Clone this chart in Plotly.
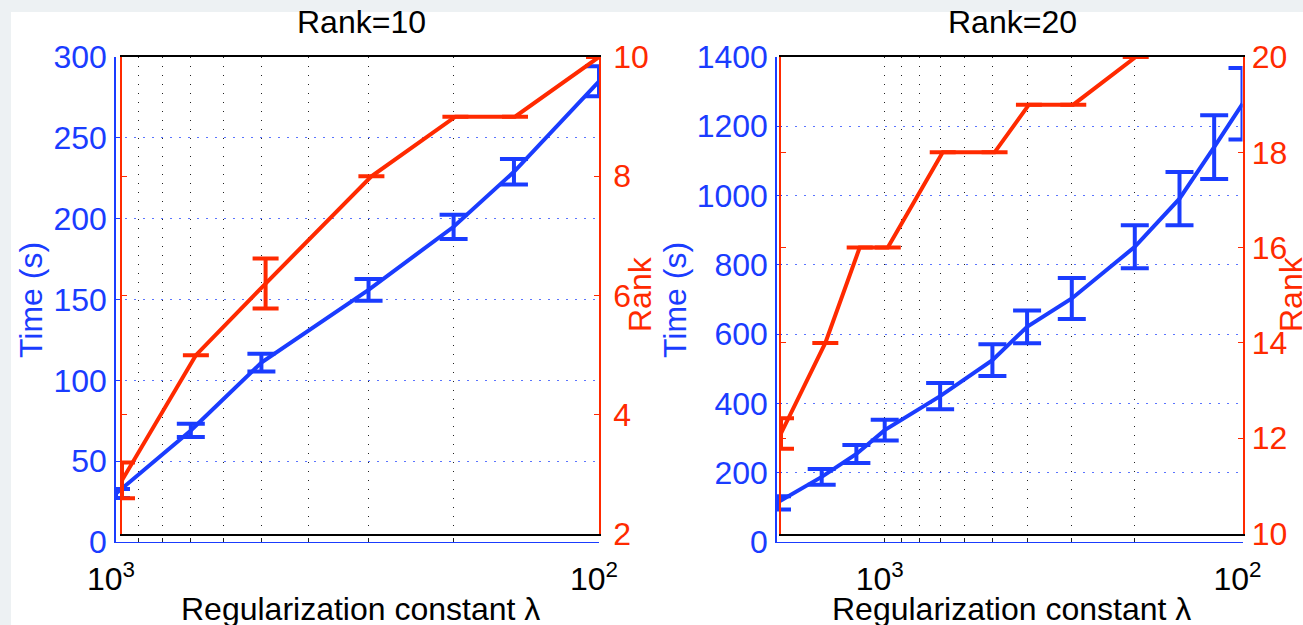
import plotly.graph_objects as go

# ---------------- data ----------------
lam_r10 = [1000, 700, 500, 300, 200, 150, 100]
time_r10 = [30, 69, 111, 156, 195, 229, 285]
time_err_r10 = [2.8, 4.1, 5.5, 6.7, 7.5, 7.9, 9.3]
rank_r10 = [2.9, 5, 6.2, 8, 9, 9, 10]
rank_err_r10 = [0.3, 0, 0.42, 0, 0, 0, 0]

lam_r20 = [2000, 1500, 1200, 1000, 700, 500, 400, 300, 200, 150, 120, 100]
time_r20 = [113, 188, 254, 323, 421, 525, 621, 703, 852, 991, 1140, 1265]
time_err_r20 = [19, 23, 26, 30, 38, 46, 47, 59, 62, 77, 92, 103]
rank_r20 = [12.1, 14, 16, 16, 18, 18, 19, 19, 20, None, None, None]
rank_err_r20 = [0.32, 0, 0, 0, 0, 0, 0, 0, 0, None, None, None]

grid_vals = [100, 200, 300, 400, 500, 600, 700, 800, 900, 1000]
grid_text = ["10<sup>2</sup>", "", "", "", "", "", "", "", "", "10<sup>3</sup>"]

titles = ["Rank=10", "Rank=20"]
xlabel = "Regularization constant λ"
ylabel_left = "Time (s)"
ylabel_right = "Rank"

# ---------------- style ----------------
W, H = 1303, 625
BLUE = "#1a3cff"
RED = "#ff2a00"
FONT = "Liberation Sans, Arial, Helvetica, sans-serif"
FS = 32


def fx(p):
    return p / W


def fy(p):
    return 1 - p / H


fig = go.Figure()

panels = [
    dict(lam=lam_r10, t=time_r10, te=time_err_r10, r=rank_r10, re=rank_err_r10,
         bx=(116, 599), rx=(122, 599), ybot_b=542, ybot_r=534, xr=[3, 2],
         yr_b=[0, 300], dt_b=50, yr_r=[2, 10], ids=("", "2"), rstand=6,
         title_x=361, xlabel_x=360, tl_x=31, rl_x=640),
    dict(lam=lam_r20, t=time_r20, te=time_err_r20, r=rank_r20, re=rank_err_r20,
         bx=(777, 1242.5), rx=(781, 1242.5), ybot_b=542, ybot_r=533.5, xr=[3.30103, 2],
         yr_b=[0, 1400], dt_b=200, yr_r=[10, 20], ids=("3", "4"), rstand=1,
         title_x=1012, xlabel_x=1011, tl_x=675, rl_x=1291),
]

YTOP = 57
annotations = []
layout_axes = {}
for i, p in enumerate(panels):
    bid, rid = p["ids"]
    xb, yb = "x" + bid, "y" + bid
    xr, yr = "x" + rid, "y" + rid
    fig.add_trace(go.Scatter(
        x=p["lam"], y=p["t"], mode="lines",
        line=dict(color=BLUE, width=4),
        error_y=dict(type="data", array=p["te"], color=BLUE, thickness=4, width=14),
        xaxis=xb, yaxis=yb, showlegend=False, cliponaxis=True))
    fig.add_trace(go.Scatter(
        x=p["lam"], y=p["r"], mode="lines",
        line=dict(color=RED, width=4),
        error_y=dict(type="data", array=p["re"], color=RED, thickness=4, width=13),
        xaxis=xr, yaxis=yr, showlegend=False, cliponaxis=True))

    layout_axes["xaxis" + bid] = dict(
        type="log", range=p["xr"], domain=[fx(p["bx"][0]), fx(p["bx"][1])],
        anchor=yb, showline=True, linecolor=BLUE, linewidth=1,
        tickmode="array", tickvals=grid_vals, ticktext=grid_text,
        ticks="inside", ticklen=4, tickcolor="#222", tickwidth=1,
        showgrid=True, gridcolor="#222", griddash="1px,8px", gridwidth=1,
        tickfont=dict(size=FS, color="black", family=FONT),
        ticklabelstandoff=9, ticklabelshift=5, automargin=False,
        zeroline=False, mirror=False)
    layout_axes["yaxis" + bid] = dict(
        range=p["yr_b"], dtick=p["dt_b"], domain=[fy(p["ybot_b"]), fy(YTOP)],
        anchor=xb, showline=True, linecolor=BLUE, linewidth=1.5,
        ticks="inside", ticklen=5, tickcolor=BLUE, automargin=False,
        showgrid=True, gridcolor="#5a74ff", griddash="2px,7px", gridwidth=1,
        tickfont=dict(size=FS, color=BLUE, family=FONT),
        ticklabelstandoff=1, zeroline=False)
    layout_axes["xaxis" + rid] = dict(
        type="log", range=p["xr"], domain=[fx(p["rx"][0]), fx(p["rx"][1])],
        anchor=yr, showline=True, linecolor="black", linewidth=2, mirror=True,
        showticklabels=False, ticks="", showgrid=False, zeroline=False, automargin=False)
    layout_axes["yaxis" + rid] = dict(
        range=p["yr_r"], dtick=2, domain=[fy(p["ybot_r"]), fy(YTOP)],
        anchor=xr, side="right", showline=True, linecolor=RED, linewidth=1.5,
        mirror="ticks", ticks="inside", ticklen=5, tickcolor=RED,
        tickfont=dict(size=FS, color=RED, family=FONT), automargin=False,
        ticklabelstandoff=p["rstand"], showgrid=False, zeroline=False)

    annotations += [
        dict(text=titles[i], x=fx(p["title_x"]), y=fy(22), xref="paper", yref="paper",
             showarrow=False, xanchor="center", yanchor="middle",
             font=dict(size=FS, color="black", family=FONT)),
        dict(text=xlabel, x=fx(p["xlabel_x"]), y=fy(589), xref="paper", yref="paper",
             showarrow=False, xanchor="center", yanchor="top",
             font=dict(size=FS, color="black", family=FONT)),
        dict(text=ylabel_left, x=fx(p["tl_x"]), y=fy(300), xref="paper", yref="paper",
             showarrow=False, xanchor="center", yanchor="middle", textangle=-90,
             font=dict(size=FS, color=BLUE, family=FONT)),
        dict(text=ylabel_right, x=fx(p["rl_x"]), y=fy(294), xref="paper", yref="paper",
             showarrow=False, xanchor="center", yanchor="middle", textangle=-90,
             font=dict(size=FS, color=RED, family=FONT)),
    ]

shapes = [
    dict(type="rect", xref="paper", yref="paper", x0=0, x1=fx(11), y0=0, y1=1,
         fillcolor="#edf1f3", line=dict(width=0), layer="below"),
    dict(type="rect", xref="paper", yref="paper", x0=0, x1=1, y0=fy(12), y1=1,
         fillcolor="#edf1f3", line=dict(width=0), layer="below"),
]

fig.update_layout(
    template="none",
    width=W, height=H, margin=dict(l=0, r=0, t=0, b=0, autoexpand=False),
    paper_bgcolor="white", plot_bgcolor="rgba(0,0,0,0)",
    showlegend=False, annotations=annotations, shapes=shapes,
    font=dict(family=FONT),
    **layout_axes)

fig.write_html("out.html")
